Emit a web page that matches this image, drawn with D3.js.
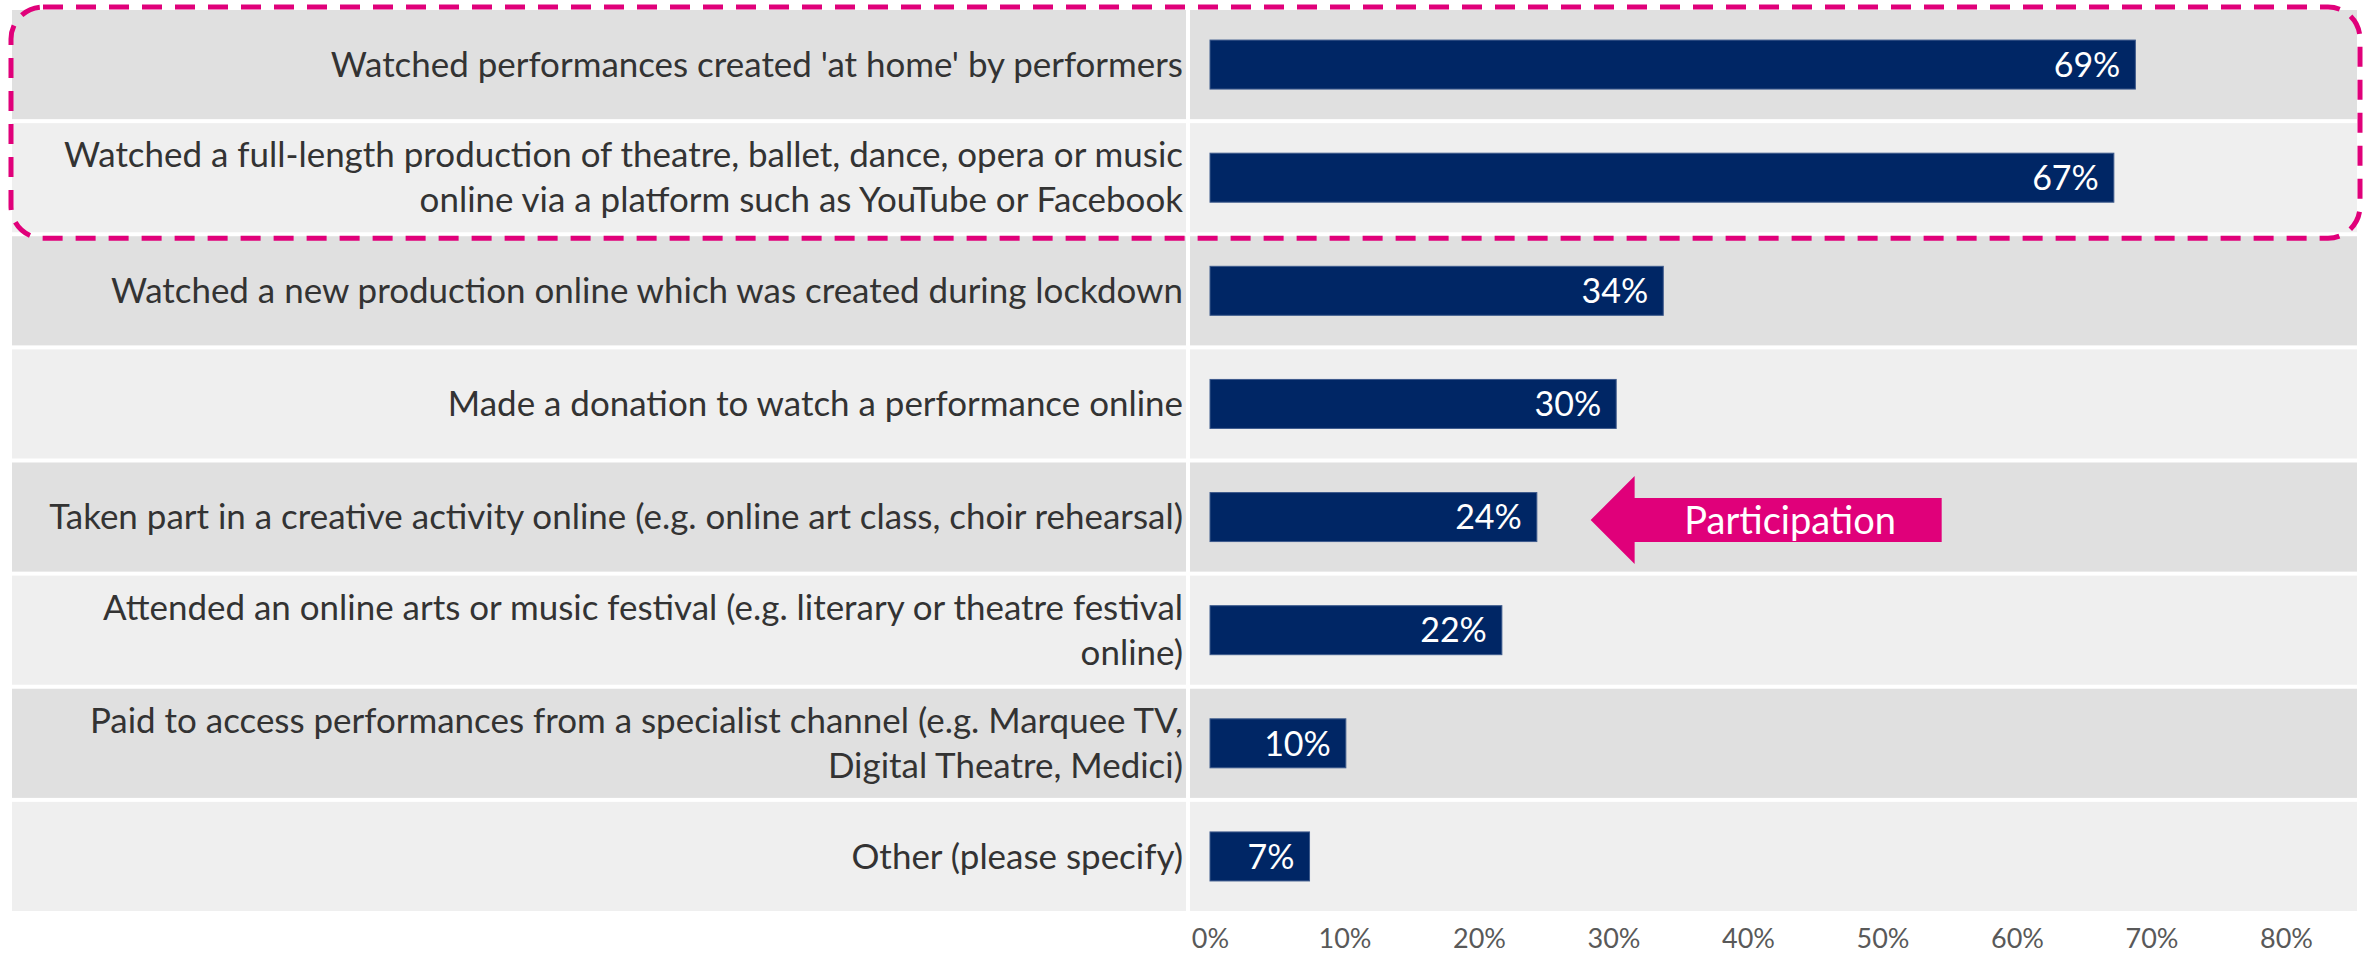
<!DOCTYPE html>
<html>
<head>
<meta charset="utf-8">
<script src="https://cdn.jsdelivr.net/npm/d3@7"></script>
<style>
  html, body { margin: 0; padding: 0; background: #ffffff; }
  svg { display: block; }
  text { font-family: Lato, "Open Sans", sans-serif; }
</style>
</head>
<body>
<svg id="chart" width="2368" height="953"></svg>
<script>
// ---- data ----
const categories = [
  "Watched performances created 'at home' by performers",
  "Watched a full-length production of theatre, ballet, dance, opera or music\nonline via a platform such as YouTube or Facebook",
  "Watched a new production online which was created during lockdown",
  "Made a donation to watch a performance online",
  "Taken part in a creative activity online (e.g. online art class, choir rehearsal)",
  "Attended an online arts or music festival (e.g. literary or theatre festival\nonline)",
  "Paid to access performances from a specialist channel (e.g. Marquee TV,\nDigital Theatre, Medici)",
  "Other (please specify)"
];
const values = [68.8, 67.2, 33.7, 30.2, 24.3, 21.7, 10.1, 7.4];
const valueLabels = ["69%", "67%", "34%", "30%", "24%", "22%", "10%", "7%"];
const tickValues = [0, 10, 20, 30, 40, 50, 60, 70, 80];
const tickLabels = ["0%", "10%", "20%", "30%", "40%", "50%", "60%", "70%", "80%"];
const annotationText = "Participation";
const annotationCategory = categories[4];
const annotationRange = [28.3, 54.4];
const highlighted = [categories[0], categories[1]];

// ---- layout ----
const svg = d3.select("#chart");
const labelLeft = 12, labelRight = 1186, plotLeft = 1190, plotRight = 2357;
const x = d3.scaleLinear().domain([0, 80]).range([1210, 2286]);
const y = d3.scaleBand().domain(categories).range([10, 915]).paddingInner(0).paddingOuter(0);
const step = y.step();
const gap = 4;
const bandFill = (i) => i % 2 === 0 ? "#e0e0e0" : "#efefef";
const barH = 49;

// background cells
const rows = svg.append("g");
categories.forEach((c, i) => {
  rows.append("rect").attr("x", labelLeft).attr("y", y(c))
    .attr("width", labelRight - labelLeft).attr("height", step - gap).attr("fill", bandFill(i));
  rows.append("rect").attr("x", plotLeft).attr("y", y(c))
    .attr("width", plotRight - plotLeft).attr("height", step - gap).attr("fill", bandFill(i));
});

// bars
svg.append("g").selectAll("rect").data(categories).join("rect")
  .attr("x", x(0))
  .attr("y", (c) => y(c) + (step - gap) / 2 - barH / 2)
  .attr("width", (c, i) => x(values[i]) - x(0))
  .attr("height", barH)
  .attr("fill", "#002665")
  .attr("stroke", "#3d5a8c").attr("stroke-width", 1);

// value labels
svg.append("g").selectAll("text").data(categories).join("text")
  .attr("x", (c, i) => x(values[i]) - 15)
  .attr("y", (c) => y(c) + (step - gap) / 2)
  .attr("dy", "0.36em")
  .attr("text-anchor", "end")
  .attr("fill", "#ffffff")
  .style("font-size", "34px")
  .text((c, i) => valueLabels[i]);

// category labels (fitted horizontally to the label column)
const labelG = svg.append("g");
const labelTexts = [];
categories.forEach((c, i) => {
  const lines = c.split("\n");
  const lh = 45;
  const cy = y(c) + (step - gap) / 2;
  const g = labelG.append("g");
  lines.forEach((ln, j) => {
    const t = g.append("text")
      .attr("x", 0)
      .attr("y", (j - (lines.length - 1) / 2) * lh)
      .attr("dy", "0.36em")
      .attr("text-anchor", "end")
      .attr("fill", "#333333")
      .style("font-size", "34px")
      .text(ln);
    labelTexts.push(t);
  });
  g.attr("data-cy", cy);
});
let maxW = 0;
labelTexts.forEach(t => { maxW = Math.max(maxW, t.node().getComputedTextLength()); });
const k = 1134 / maxW;
labelG.selectAll(":scope > g").each(function() {
  const cy = +d3.select(this).attr("data-cy");
  d3.select(this).attr("transform", `translate(1183,${cy}) scale(${k},1)`);
});

// x axis tick labels
const axis = d3.axisBottom(x).tickValues(tickValues).tickFormat((d, i) => tickLabels[i]).tickSize(0).tickPadding(0);
const ax = svg.append("g").attr("transform", "translate(0,938)").call(axis);
ax.select(".domain").remove();
ax.selectAll("text")
  .attr("dy", "0.36em").attr("y", 0)
  .attr("fill", "#595959")
  .style("font-size", "27px")
  .style("font-family", "Lato, 'Open Sans', sans-serif");

// dashed highlight box
const hy0 = y(highlighted[0]) - 3;
const hy1 = y(highlighted[1]) + step - gap + 6;
svg.append("rect")
  .attr("x", 11).attr("y", hy0)
  .attr("width", 2360 - 11).attr("height", hy1 - hy0)
  .attr("rx", 32).attr("ry", 32)
  .attr("fill", "none")
  .attr("stroke", "#e0007a").attr("stroke-width", 5)
  .attr("stroke-dasharray", "20 13");

// participation arrow
const acy = y(annotationCategory) + (step - gap) / 2 + 3;
const tipX = x(annotationRange[0]), endX = x(annotationRange[1]);
const headLen = 44, headHalf = 44, shaftHalf = 22;
const pts = [
  [tipX, acy],
  [tipX + headLen, acy - headHalf],
  [tipX + headLen, acy - shaftHalf],
  [endX, acy - shaftHalf],
  [endX, acy + shaftHalf],
  [tipX + headLen, acy + shaftHalf],
  [tipX + headLen, acy + headHalf]
];
svg.append("polygon").attr("points", pts.map(p => p.join(",")).join(" ")).attr("fill", "#e0007a");
svg.append("text")
  .attr("x", (tipX + headLen + endX) / 2 + 2)
  .attr("y", acy)
  .attr("dy", "0.36em")
  .attr("text-anchor", "middle")
  .attr("fill", "#ffffff")
  .style("font-size", "38px")
  .text(annotationText);
</script>
</body>
</html>
